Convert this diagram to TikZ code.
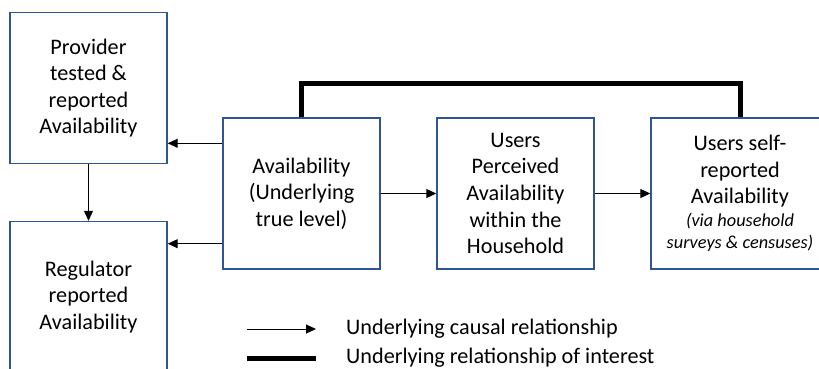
\documentclass[tikz,border=0pt]{standalone}
\usepackage{fontspec}
\setmainfont{Carlito}
\usetikzlibrary{arrows.meta}
\definecolor{boxblue}{HTML}{2F5597}
\newcommand\smallnote{\fontsize{18.3}{22}\selectfont\itshape}
\tikzset{
  box/.style={draw=boxblue, line width=1.4pt, fill=white, rectangle,
    minimum width=157pt, minimum height=151pt, align=center,
    inner sep=2pt, font=\fontsize{22.2}{26.6}\selectfont},
  causal/.style={draw=black, line width=1pt,
    -{Triangle[length=10pt,width=9pt]}},
  interest/.style={draw=black, line width=5pt},
  legendtext/.style={anchor=west, inner sep=0pt,
    font=\fontsize{22.2}{26.6}\selectfont}
}
\begin{document}
\begin{tikzpicture}[x=1pt, y=-1pt]
  \useasboundingbox (0,0) rectangle (819,369);
  \clip (0,0) rectangle (819,369);

  % boxes
  \node[box] (prov) at (88.5,88) {Provider\\tested \&\\reported\\Availability};
  \node[box] (reg) at (88.5,297) {Regulator\\reported\\Availability};
  \node[box] (avail) at (301.5,193.5) {Availability\\(Underlying\\true level)};
  \node[box] (perc) at (515.5,193.5) {Users\\Perceived\\Availability\\within the\\Household};
  \node[box, minimum width=178pt] (self) at (740,193.5)
    {Users self-\\reported\\Availability\\[-4pt]{\smallnote (via household}\\[-4.5pt]{\smallnote surveys \& censuses)}};

  % relationship of interest
  \coordinate (top) at (0,83);
  \draw[interest] (avail.north) -- (avail.north |- top) -| (self.north);

  % causal arrows
  \draw[causal] ([yshift=-26pt]avail.north west) -- ([yshift=-26pt]avail.north west -| prov.east);
  \draw[causal] ([yshift=26pt]avail.south west) -- ([yshift=26pt]avail.south west -| reg.east);
  \draw[causal] (prov.south) -- (reg.north);
  \draw[causal] (avail.east) -- (perc.west);
  \draw[causal] (perc.east) -- (self.west);

  % legend
  \coordinate (la1) at (247,329);
  \coordinate (lb1) at (316,329);
  \coordinate (la2) at (247,358);
  \coordinate (lb2) at (316,358);
  \draw[causal] (la1) -- (lb1);
  \draw[interest] (la2) -- (lb2);
  \node[legendtext] (lt1) at (346,329) {Underlying causal relationship};
  \node[legendtext] (lt2) at (346,358) {Underlying relationship of interest};
\end{tikzpicture}
\end{document}
